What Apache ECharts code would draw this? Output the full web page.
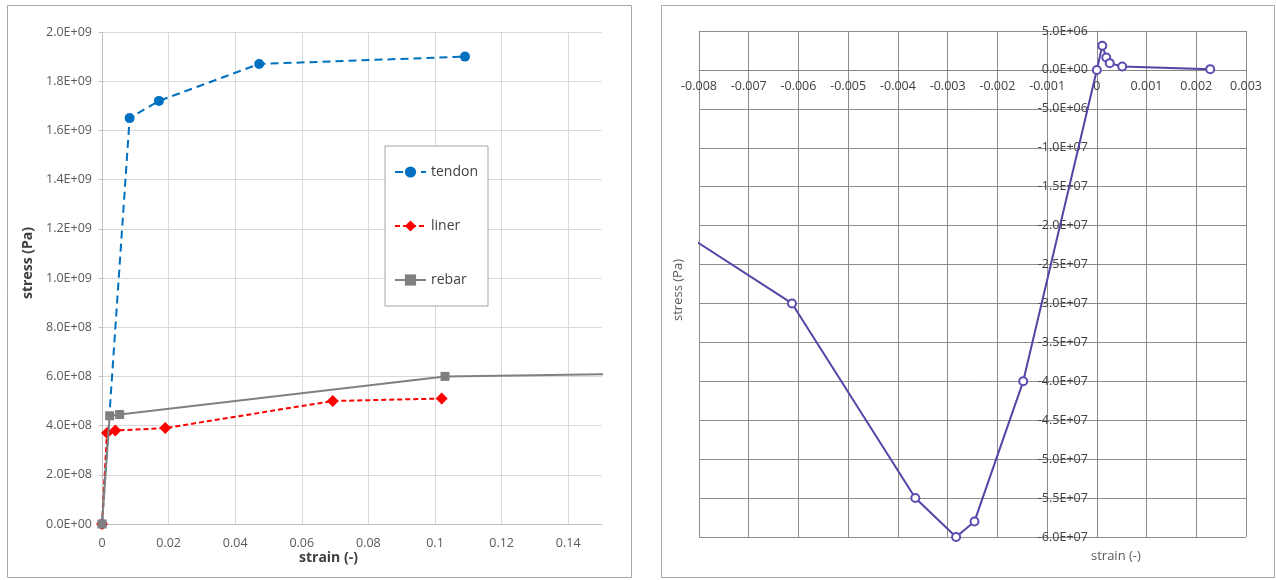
<!DOCTYPE html>
<html>
<head>
<meta charset="utf-8">
<script src="https://cdn.jsdelivr.net/npm/echarts@6/dist/echarts.min.js"></script>
<style>
html,body{margin:0;padding:0;background:#fff;}
#c{width:1276px;height:580px;}
</style>
</head>
<body>
<div id="c"></div>
<script>
// ---- Left chart data: [strain, stress] ----
const tendon = [[0, 0], [0.0083, 1.65e9], [0.0171, 1.72e9], [0.0472, 1.87e9], [0.109, 1.90e9]];
const liner  = [[0, 0], [0.0015, 3.7e8], [0.004, 3.8e8], [0.019, 3.9e8], [0.0693, 5.0e8], [0.102, 5.1e8]];
const rebar  = [[0, 0], [0.0023, 4.4e8], [0.0053, 4.45e8], [0.103, 6.0e8], [0.16, 6.1e8]];
const leftSeriesNames = ['tendon', 'liner', 'rebar'];

// ---- Right chart data: [strain, stress] ----
const concrete = [[-0.01, -1.4e7], [-0.00613, -3.0e7], [-0.00365, -5.5e7], [-0.00283, -6.0e7],
                  [-0.00246, -5.8e7], [-0.00148, -4.0e7], [0, 0], [0.00011, 3.1e6],
                  [0.00019, 1.6e6], [0.00026, 0.87e6], [0.00051, 0.43e6], [0.00228, 0.1e6]];

const FONT = 'Open Sans';
function sci(v) {
  if (Math.abs(v) < 1e-9) return '0.0E+00';
  const s = v.toExponential(1);
  const parts = s.split('e');
  const sign = parts[1][0];
  const d = parts[1].slice(1).padStart(2, '0');
  return parts[0] + 'E' + sign + d;
}

// right grid geometry
const RG = {left: 699, top: 31, width: 547, height: 506};
const rxMin = -0.008, rxMax = 0.003, ryMin = -6e7, ryMax = 5e6;
const zeroX = RG.width * (0 - rxMin) / (rxMax - rxMin);      // from grid left
const zeroY = RG.height * (ryMax - 0) / (ryMax - ryMin);     // from grid top

const chart = echarts.init(document.getElementById('c'), null, {renderer: 'canvas'});
const option = {
  animation: false,
  backgroundColor: '#ffffff',
  textStyle: {fontFamily: FONT},
  grid: [
    {left: 102, top: 32, width: 499.5, height: 492},
    {left: RG.left, top: RG.top, width: RG.width, height: RG.height}
  ],
  xAxis: [
    {
      gridIndex: 0, type: 'value', min: 0, max: 0.15, interval: 0.02,
      axisLine: {show: true, onZero: false, lineStyle: {color: '#bfbfbf', width: 1}},
      axisTick: {show: false},
      splitLine: {show: true, showMaxLine: false, lineStyle: {color: '#d9d9d9', width: 1}},
      axisLabel: {color: '#595959', fontSize: 12.5, fontFamily: FONT, margin: 13,
        showMaxLabel: false,
        formatter: v => (v > 0.145 ? '' : String(+v.toFixed(2)))}
    },
    {
      gridIndex: 1, type: 'value', min: rxMin, max: rxMax, interval: 0.001,
      position: 'bottom', offset: -(RG.height - zeroY),
      axisLine: {show: true, onZero: false, lineStyle: {color: '#868686', width: 1}},
      axisTick: {show: true, length: 4, lineStyle: {color: '#868686'}},
      splitLine: {show: true, lineStyle: {color: '#8c8c8c', width: 1}},
      axisLabel: {color: '#404040', fontSize: 12.5, fontFamily: FONT, margin: 10,
        formatter: v => String(+v.toFixed(3))}
    }
  ],
  yAxis: [
    {
      gridIndex: 0, type: 'value', min: 0, max: 2e9, interval: 2e8,
      axisLine: {show: true, onZero: false, lineStyle: {color: '#bfbfbf', width: 1}},
      axisTick: {show: true, length: 3, lineStyle: {color: '#bfbfbf'}},
      splitLine: {show: true, lineStyle: {color: '#d9d9d9', width: 1}},
      axisLabel: {color: '#595959', fontSize: 12.5, fontFamily: FONT, margin: 10, formatter: sci}
    },
    {
      gridIndex: 1, type: 'value', min: ryMin, max: ryMax, interval: 5e6,
      position: 'left', offset: -zeroX,
      axisLine: {show: true, onZero: false, lineStyle: {color: '#868686', width: 1}},
      axisTick: {show: true, length: 5, lineStyle: {color: '#868686'}},
      splitLine: {show: true, lineStyle: {color: '#8c8c8c', width: 1}},
      axisLabel: {color: '#404040', fontSize: 12.5, fontFamily: FONT, margin: 9, formatter: sci}
    }
  ],
  legend: {
    data: leftSeriesNames,
    orient: 'vertical',
    left: 385, top: 146,
    padding: [19, 10, 19, 9],
    itemGap: 40,
    itemWidth: 31, itemHeight: 14,
    backgroundColor: '#ffffff',
    borderColor: '#a6a6a6', borderWidth: 1, borderRadius: 0,
    textStyle: {color: '#404040', fontSize: 14, fontFamily: FONT}
  },
  series: [
    {
      name: leftSeriesNames[0], type: 'line', xAxisIndex: 0, yAxisIndex: 0,
      data: tendon, symbol: 'circle', symbolSize: 10, clip: true,
      itemStyle: {color: '#0070c0'},
      lineStyle: {color: '#0070c0', width: 2, type: [8, 5]}, z: 3
    },
    {
      name: leftSeriesNames[1], type: 'line', xAxisIndex: 0, yAxisIndex: 0,
      data: liner, symbol: 'diamond', symbolSize: 12, clip: true,
      itemStyle: {color: '#ff0000'},
      lineStyle: {color: '#ff0000', width: 2, type: [5, 3]}, z: 4
    },
    {
      name: leftSeriesNames[2], type: 'line', xAxisIndex: 0, yAxisIndex: 0,
      data: rebar, symbol: 'rect', symbolSize: 9, clip: true,
      itemStyle: {color: '#808080'},
      lineStyle: {color: '#808080', width: 2}, z: 5
    },
    {
      name: 'concrete', type: 'line', xAxisIndex: 1, yAxisIndex: 1,
      data: concrete, symbol: 'emptyCircle', symbolSize: 8, clip: true,
      itemStyle: {color: '#5a4db0', borderColor: '#6a5cc0', borderWidth: 1},
      lineStyle: {color: '#5046a6', width: 2}, z: 5
    }
  ],
  graphic: [
    {type: 'rect', shape: {x: 7.5, y: 5.5, width: 624, height: 572}, silent: true, z: -10,
     style: {fill: 'none', stroke: '#a6a6a6', lineWidth: 1}},
    {type: 'rect', shape: {x: 661.5, y: 5.5, width: 613, height: 572}, silent: true, z: -10,
     style: {fill: 'none', stroke: '#a6a6a6', lineWidth: 1}},
    {type: 'text', left: 299, top: 551, silent: true,
     style: {text: 'strain (-)', fill: '#404040', font: 'bold 14px "Open Sans"'}},
    {type: 'text', x: 28, y: 263, rotation: Math.PI / 2, silent: true,
     style: {text: 'stress (Pa)', fill: '#404040', font: 'bold 14px "Open Sans"', align: 'center', verticalAlign: 'middle'}},
    {type: 'text', left: 1091, top: 550, silent: true,
     style: {text: 'strain (-)', fill: '#595959', font: '13px "Open Sans"'}},
    {type: 'text', x: 678, y: 290, rotation: Math.PI / 2, silent: true,
     style: {text: 'stress (Pa)', fill: '#595959', font: '13px "Open Sans"', align: 'center', verticalAlign: 'middle'}}
  ]
};
chart.setOption(option);
</script>
</body>
</html>
